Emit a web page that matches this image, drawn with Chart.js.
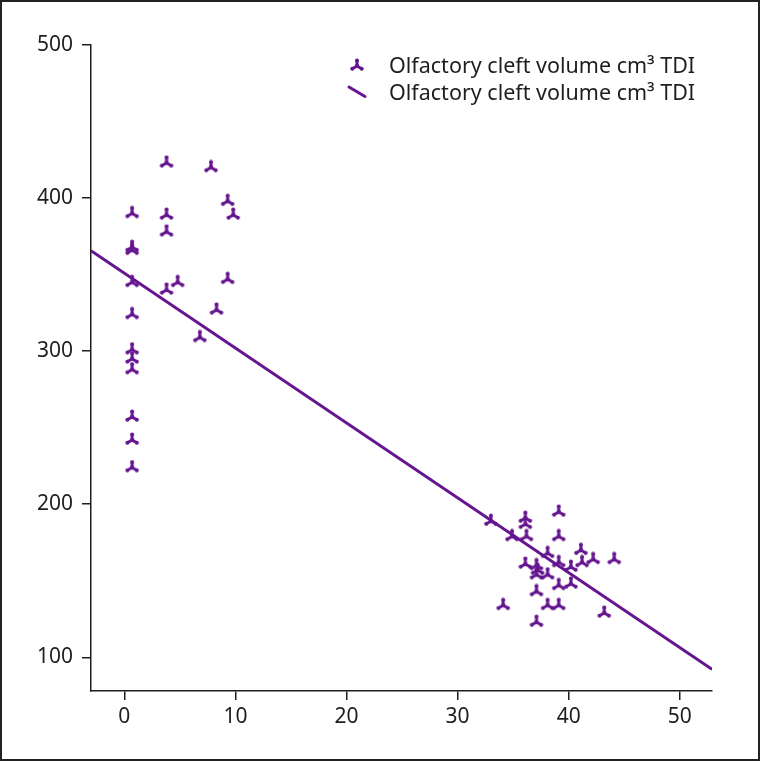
<!DOCTYPE html>
<html>
<head>
<meta charset="utf-8">
<script src="https://cdn.jsdelivr.net/npm/chart.js@4.4.1/dist/chart.umd.min.js"></script>
<style>
  html, body { margin: 0; padding: 0; background: #fff; }
  #wrap { position: relative; width: 760px; height: 761px; }
  #frame { position: absolute; left: 0; top: 0; width: 760px; height: 761px;
           box-sizing: border-box; border: 2px solid #222; pointer-events: none; }
</style>
</head>
<body>
<div id="wrap">
  <canvas id="chart" width="760" height="761"></canvas>
  <div id="frame"></div>
</div>
<script>
// data
const tdiScores = [
  0.7, 0.7, 0.7, 0.7, 0.7, 0.7, 0.7, 0.7, 0.7, 0.7, 0.7,
  3.8, 3.8, 3.8, 3.8, 4.8, 6.8, 7.8, 8.3, 9.3, 9.3, 9.8,
  33.0, 36.1, 36.1, 39.1, 34.9, 36.2, 39.1, 38.1, 41.1, 36.1, 37.1, 37.2,
  39.1, 40.2, 41.2, 42.2, 44.1, 37.1, 38.1, 39.1, 40.2, 37.1, 34.1, 38.1,
  39.1, 43.2, 37.1
];
const cleftVolumes = [
  390, 368, 366, 345, 324, 301, 295, 288, 257, 242, 224,
  423, 389, 378, 340, 345, 309, 420, 327, 398, 347, 389,
  189, 191, 187, 195, 179, 179, 179, 168, 170, 161, 160, 157,
  162, 159, 162, 164, 164, 154, 154, 147, 148, 143, 134, 134,
  134, 129, 123
];
const fitX = [-3, 52.9];
const fitY = [365.6, 92.2];
const xTicks = [0, 10, 20, 30, 40, 50];
const yTicks = [100, 200, 300, 400, 500];
const seriesLabel = 'Olfactory cleft volume cm\u00B3 TDI';

const purple = '#65158f';
const ink = '#1e1e1e';
const fontFamily = '"Noto Sans", "Open Sans", sans-serif';

// tri-up marker
function makeMarker(size) {
  const c = document.createElement('canvas');
  c.width = size; c.height = size;
  const g = c.getContext('2d');
  const m = size / 2;
  const r = size * 0.34;
  const arms = [-90, 30, 150].map(a => a * Math.PI / 180);
  g.strokeStyle = purple;
  g.fillStyle = purple;
  g.lineWidth = 3;
  g.lineCap = 'round';
  arms.forEach(a => {
    const ex = m + r * Math.cos(a), ey = m + r * Math.sin(a);
    g.beginPath(); g.moveTo(m, m); g.lineTo(ex, ey); g.stroke();
    g.beginPath(); g.arc(ex, ey, 2, 0, Math.PI * 2); g.fill();
  });
  g.beginPath(); g.arc(m, m, 2.2, 0, Math.PI * 2); g.fill();
  return c;
}
const marker = makeMarker(16);

const points = tdiScores.map((x, i) => ({ x: x, y: cleftVolumes[i] }));
const fitLine = fitX.map((x, i) => ({ x: x, y: fitY[i] }));

const legendPlugin = {
  id: 'cornerLegend',
  afterDatasetsDraw(chart) {
    const ctx = chart.ctx;
    ctx.save();
    ctx.drawImage(marker, 357 - marker.width / 2, 66 - marker.height / 2);
    ctx.strokeStyle = purple;
    ctx.lineWidth = 3;
    ctx.lineCap = 'round';
    ctx.beginPath(); ctx.moveTo(349, 87); ctx.lineTo(365, 96.5); ctx.stroke();
    ctx.fillStyle = ink;
    ctx.font = '21.5px ' + fontFamily;
    ctx.textBaseline = 'middle';
    ctx.textAlign = 'left';
    ctx.fillText(chart.data.datasets[0].label, 389, 67);
    ctx.fillText(chart.data.datasets[1].label, 389, 93.5);
    ctx.restore();
  }
};

const axisStyle = {
  border: { display: true, color: ink, width: 1.5 },
  grid: { drawOnChartArea: false, drawTicks: true, tickLength: 9, color: ink, lineWidth: 1.5 },
  ticks: { color: ink, font: { family: fontFamily, size: 21 } }
};

new Chart(document.getElementById('chart').getContext('2d'), {
  type: 'scatter',
  data: {
    datasets: [{
      label: seriesLabel,
      data: points,
      pointStyle: marker,
      pointRadius: 7,
      pointHoverRadius: 7
    }, {
      type: 'line',
      label: seriesLabel,
      data: fitLine,
      borderColor: purple,
      borderWidth: 3,
      pointRadius: 0,
      fill: false
    }]
  },
  options: {
    responsive: false,
    animation: false,
    events: [],
    layout: { padding: { top: 45, right: 48, left: 0, bottom: 0 } },
    plugins: { legend: { display: false }, tooltip: { enabled: false } },
    scales: {
      x: {
        type: 'linear',
        min: -3,
        max: 52.9,
        ...axisStyle,
        ticks: { ...axisStyle.ticks, padding: 4 },
        afterBuildTicks: s => { s.ticks = xTicks.map(v => ({ value: v })); },
        afterFit: s => { s.height = 70; }
      },
      y: {
        min: 78,
        max: 500,
        ...axisStyle,
        ticks: { ...axisStyle.ticks, padding: 9 },
        afterBuildTicks: s => { s.ticks = yTicks.map(v => ({ value: v })); },
        afterFit: s => { s.width = 91; }
      }
    }
  },
  plugins: [legendPlugin]
});
</script>
</body>
</html>
